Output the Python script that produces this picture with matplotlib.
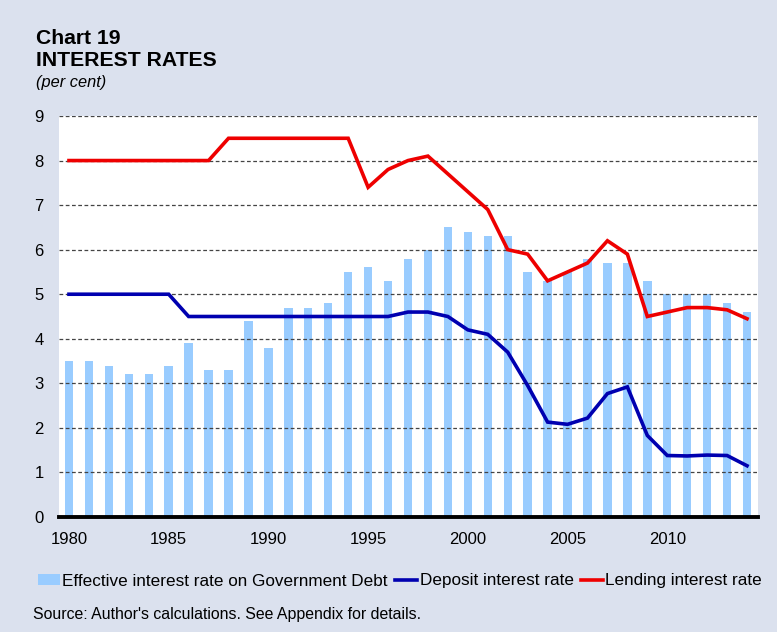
import matplotlib
matplotlib.use("Agg")
import matplotlib.pyplot as plt
from matplotlib.patches import Patch
from matplotlib.lines import Line2D

plt.rcParams["font.family"] = ["Liberation Sans", "DejaVu Sans"]

years = list(range(1980, 2015))
gov_debt = [3.5, 3.5, 3.4, 3.2, 3.2, 3.4, 3.9, 3.3, 3.3, 4.4,
            3.8, 4.7, 4.7, 4.8, 5.5, 5.6, 5.3, 5.8, 6.0, 6.5,
            6.4, 6.3, 6.3, 5.5, 5.3, 5.5, 5.8, 5.7, 5.7, 5.3,
            5.0, 5.0, 5.0, 4.8, 4.6]
deposit = [5.0, 5.0, 5.0, 5.0, 5.0, 5.0, 4.5, 4.5, 4.5, 4.5,
           4.5, 4.5, 4.5, 4.5, 4.5, 4.5, 4.5, 4.6, 4.6, 4.5,
           4.2, 4.1, 3.7, 2.95, 2.13, 2.08, 2.22, 2.77, 2.92, 1.83,
           1.38, 1.37, 1.39, 1.38, 1.15]
lending = [8.0, 8.0, 8.0, 8.0, 8.0, 8.0, 8.0, 8.0, 8.5, 8.5,
           8.5, 8.5, 8.5, 8.5, 8.5, 7.4, 7.8, 8.0, 8.1, 7.7,
           7.3, 6.9, 6.0, 5.9, 5.3, 5.5, 5.7, 6.2, 5.9, 4.5,
           4.6, 4.7, 4.7, 4.65, 4.45]
xticks = [1980, 1985, 1990, 1995, 2000, 2005, 2010]

BG = "#dbe1ee"
BAR = "#99ccff"
BLUE = "#0000b0"
RED = "#ee0000"

fig = plt.figure(figsize=(7.77, 6.32), dpi=100, facecolor=BG)
ax = fig.add_axes([59 / 777, 1 - 517 / 632, 699 / 777, 401 / 632])
ax.set_facecolor("white")

ax.bar(years, gov_debt, width=0.42, color=BAR, zorder=1)
ax.plot(years, deposit, color=BLUE, lw=2.6, zorder=3, solid_joinstyle="miter")
ax.plot(years, lending, color=RED, lw=2.6, zorder=3, solid_joinstyle="miter")

for y in range(1, 10):
    ax.axhline(y, color="#444444", lw=0.9, ls=(0, (3, 2)), zorder=2)

ax.set_xlim(1979.5, 2014.55)
ax.set_ylim(0, 9)
ax.set_yticks(range(0, 10))
ax.set_xticks(xticks)
ax.tick_params(axis="both", length=0, labelsize=12)
ax.tick_params(axis="y", pad=11)
ax.tick_params(axis="x", pad=11)
for s in ["top", "right", "left"]:
    ax.spines[s].set_visible(False)
ax.spines["bottom"].set_linewidth(2.8)
ax.spines["bottom"].set_color("black")
ax.spines["bottom"].set_zorder(4)

fig.text(36 / 777, 1 - 38 / 632, "Chart 19", fontsize=15.2, fontweight="bold", va="center")
fig.text(36 / 777, 1 - 61 / 632, "INTEREST RATES", fontsize=15.2, fontweight="bold", va="center")
fig.text(36 / 777, 1 - 83 / 632, "(per cent)", fontsize=11.8, style="italic", va="center")

handles = [
    Patch(facecolor=BAR, edgecolor="none"),
    Line2D([], [], color=BLUE, lw=2.6),
    Line2D([], [], color=RED, lw=2.6),
]
labels = ["Effective interest rate on Government Debt",
          "Deposit interest rate", "Lending interest rate"]
fig.legend(handles, labels, loc="center", bbox_to_anchor=(400 / 777, 1 - 581 / 632),
           ncol=3, frameon=False, fontsize=12.3, handlelength=1.3, handletextpad=0.12,
           columnspacing=0.45, handleheight=0.55, borderpad=0)

fig.text(33 / 777, 1 - 614 / 632, "Source: Author's calculations. See Appendix for details.",
         fontsize=11.4, va="center")

fig.savefig("out.png", dpi=100, facecolor=BG)
